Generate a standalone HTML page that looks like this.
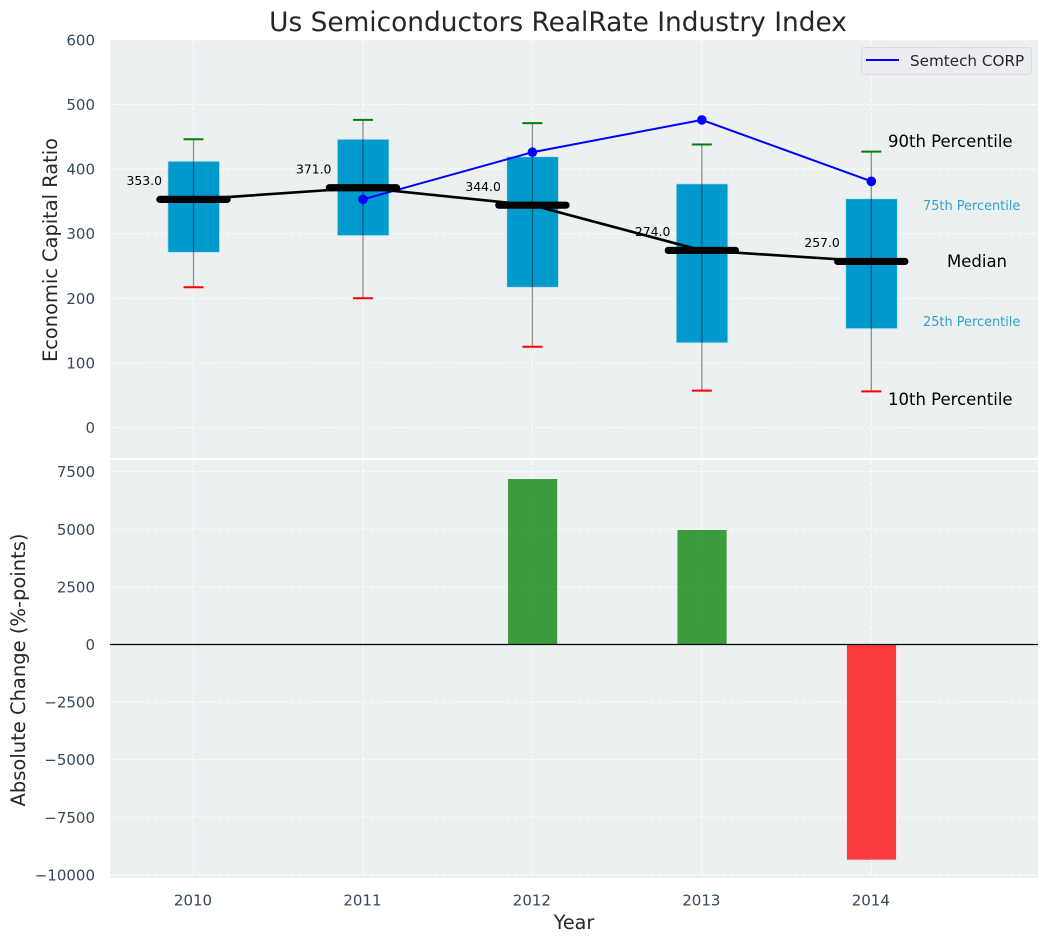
<!DOCTYPE html>
<html>
<head>
<meta charset="utf-8">
<title>Us Semiconductors RealRate Industry Index</title>
<style>
html,body{margin:0;padding:0;background:#fff;width:1048px;height:942px;overflow:hidden}
svg{display:block;font-family:"DejaVu Sans","Liberation Sans",sans-serif}
</style>
</head>
<body>
<svg id="chart" xmlns="http://www.w3.org/2000/svg" width="1048" height="942" viewBox="0 0 1048 942">
  <rect x="0" y="0" width="1048" height="942" fill="#ffffff"/>
  <text x="558" y="31" text-anchor="middle" font-size="26.4" fill="#262626">Us Semiconductors RealRate Industry Index</text>
  <rect x="110" y="40" width="928" height="418" fill="#ecf0f1"/>
  <rect x="110" y="460" width="928" height="418" fill="#ecf0f1"/>
  <g id="grid"></g>
  <g id="boxes"></g>
  <g id="bars"></g>
  <g id="lines"></g>
  <g id="ticks"></g>
  <text transform="translate(57,250) rotate(-90)" text-anchor="middle" font-size="19.4" fill="#262626">Economic Capital Ratio</text>
  <text transform="translate(25,670) rotate(-90)" text-anchor="middle" font-size="19.5" fill="#262626">Absolute Change (%-points)</text>
  <text x="574" y="929" text-anchor="middle" font-size="19.2" fill="#262626">Year</text>
  <text x="888" y="147" font-size="16.5" fill="#000000">90th Percentile</text>
  <text x="923" y="210" font-size="12.9" fill="#2aa3cf">75th Percentile</text>
  <text x="947" y="267" font-size="16.5" fill="#000000">Median</text>
  <text x="923" y="326" font-size="12.9" fill="#2aa3cf">25th Percentile</text>
  <text x="888" y="405" font-size="16.5" fill="#000000">10th Percentile</text>
  <g>
    <rect x="861.5" y="47.5" width="170" height="27" rx="3" fill="#ebedf1" stroke="#d9dbe0" stroke-width="1"/>
    <line x1="866" y1="60" x2="899" y2="60" stroke="#0000ff" stroke-width="2"/>
    <text x="910" y="66" font-size="15.2" fill="#262626">Semtech CORP</text>
  </g>
</svg>
<script>
const years = [2010, 2011, 2012, 2013, 2014];
const p10 = [217, 200, 125, 57, 56];
const p25 = [271, 297, 217, 131, 153];
const medians = [353, 371, 344, 274, 257];
const p75 = [412, 446, 419, 377, 354];
const p90 = [446, 476, 471, 438, 427];
const semtechYears = [2011, 2012, 2013, 2014];
const semtechValues = [353, 426, 476, 381];
const changeYears = [2012, 2013, 2014];
const changeValues = [7183, 4970, -9340];
const topTicks = [0, 100, 200, 300, 400, 500, 600];
const bottomTicks = [-10000, -7500, -5000, -2500, 0, 2500, 5000, 7500];

const NS = 'http://www.w3.org/2000/svg';
const xScale = function (year) { return 193.5 + (year - 2010) * 169.45; };
const yTop = function (v) { return 427.5 - v * 0.6462; };
const yBottom = function (v) { return 644.5 - v * 0.02304; };
const fmtTick = function (v) { return v < 0 ? '\u2212' + Math.abs(v) : String(v); };

function make(tag, parent, attrs, text) {
  const el = document.createElementNS(NS, tag);
  for (const k in attrs) el.setAttribute(k, attrs[k]);
  if (text !== undefined) el.textContent = text;
  parent.appendChild(el);
  return el;
}

const gridG = document.getElementById('grid');
const boxesG = document.getElementById('boxes');
const barsG = document.getElementById('bars');
const linesG = document.getElementById('lines');
const ticksG = document.getElementById('ticks');
const gridStyle = { stroke: '#ffffff', 'stroke-width': 1.1, 'stroke-dasharray': '5 2.2', opacity: 0.85 };

topTicks.forEach(function (t) {
  const y = yTop(t);
  const g = make('line', gridG, Object.assign({ x1: 110, x2: 1038, y1: y, y2: y }, gridStyle));
  
  
  const lab = make('text', ticksG, { x: 95, y: y + 5.5, 'text-anchor': 'end', 'font-size': 15, fill: '#34495e' }, fmtTick(t));
  
  
});

bottomTicks.forEach(function (t) {
  const y = yBottom(t);
  const g = make('line', gridG, Object.assign({ x1: 110, x2: 1038, y1: y, y2: y }, gridStyle));
  
  
  const lab = make('text', ticksG, { x: 95, y: y + 5.5, 'text-anchor': 'end', 'font-size': 15, fill: '#34495e' }, fmtTick(t));
  
  
});

years.forEach(function (yr) {
  const x = xScale(yr);
  const g1 = make('line', gridG, Object.assign({ x1: x, x2: x, y1: 40, y2: 458 }, gridStyle));
  
  
  const g2 = make('line', gridG, Object.assign({ x1: x, x2: x, y1: 460, y2: 878 }, gridStyle));
  
  
  const lab = make('text', ticksG, { x: x - 0.5, y: 905.5, 'text-anchor': 'middle', 'font-size': 15, fill: '#34495e' }, String(yr));
  
  
});

years.forEach(function (yr, i) {
  const x = xScale(yr);
  const top = yTop(p75[i]);
  const bot = yTop(p25[i]);
  const box = make('rect', boxesG, { x: x - 25.6, y: top, width: 51.6, height: bot - top, fill: '#009ACD', stroke: '#b9e0ee', 'stroke-width': 0.8 });
  
  
  const whisker = make('line', boxesG, { x1: x, x2: x, y1: yTop(p90[i]), y2: yTop(p10[i]), stroke: 'rgba(0,0,0,0.42)', 'stroke-width': 1.3 });
  
  
  const capHi = make('line', boxesG, { x1: x - 10, x2: x + 10, y1: yTop(p90[i]), y2: yTop(p90[i]), stroke: '#008000', 'stroke-width': 2 });
  
  
  const capLo = make('line', boxesG, { x1: x - 10, x2: x + 10, y1: yTop(p10[i]), y2: yTop(p10[i]), stroke: '#ff0000', 'stroke-width': 2 });
  
  
});

changeYears.forEach(function (yr, i) {
  const x = xScale(yr);
  const v = changeValues[i];
  const y0 = yBottom(0);
  const y1 = yBottom(v);
  const bar = make('rect', barsG, { x: x - 24.4, y: Math.min(y0, y1), width: 49.2, height: Math.abs(y1 - y0), fill: v >= 0 ? 'rgba(0,128,0,0.75)' : 'rgba(255,0,0,0.75)' });
  
  
});

const zero = make('line', barsG, { x1: 110, x2: 1038, y1: yBottom(0), y2: yBottom(0), stroke: '#000000', 'stroke-width': 1.2 });



const semPts = semtechYears.map(function (yr, i) { return xScale(yr) + ',' + yTop(semtechValues[i]); }).join(' ');
const semLine = make('polyline', linesG, { points: semPts, fill: 'none', stroke: '#0000ff', 'stroke-width': 2 });


semtechYears.forEach(function (yr, i) {
  const dot = make('circle', linesG, { cx: xScale(yr), cy: yTop(semtechValues[i]), r: 4.8, fill: '#0000ff' });
  
  
});

const medPts = years.map(function (yr, i) { return xScale(yr) + ',' + yTop(medians[i]); }).join(' ');
const medLine = make('polyline', linesG, { points: medPts, fill: 'none', stroke: '#000000', 'stroke-width': 2.6 });


years.forEach(function (yr, i) {
  const x = xScale(yr);
  const y = yTop(medians[i]);
  const seg = make('line', linesG, { x1: x - 33.6, x2: x + 33.6, y1: y, y2: y, stroke: '#000000', 'stroke-width': 7.2, 'stroke-linecap': 'round' });
  
  
  const lab = make('text', linesG, { x: x - 31.5, y: y - 14.3, 'text-anchor': 'end', 'font-size': 12.4, fill: '#000000' }, medians[i].toFixed(1));
  
  
});
</script>
</body>
</html>
